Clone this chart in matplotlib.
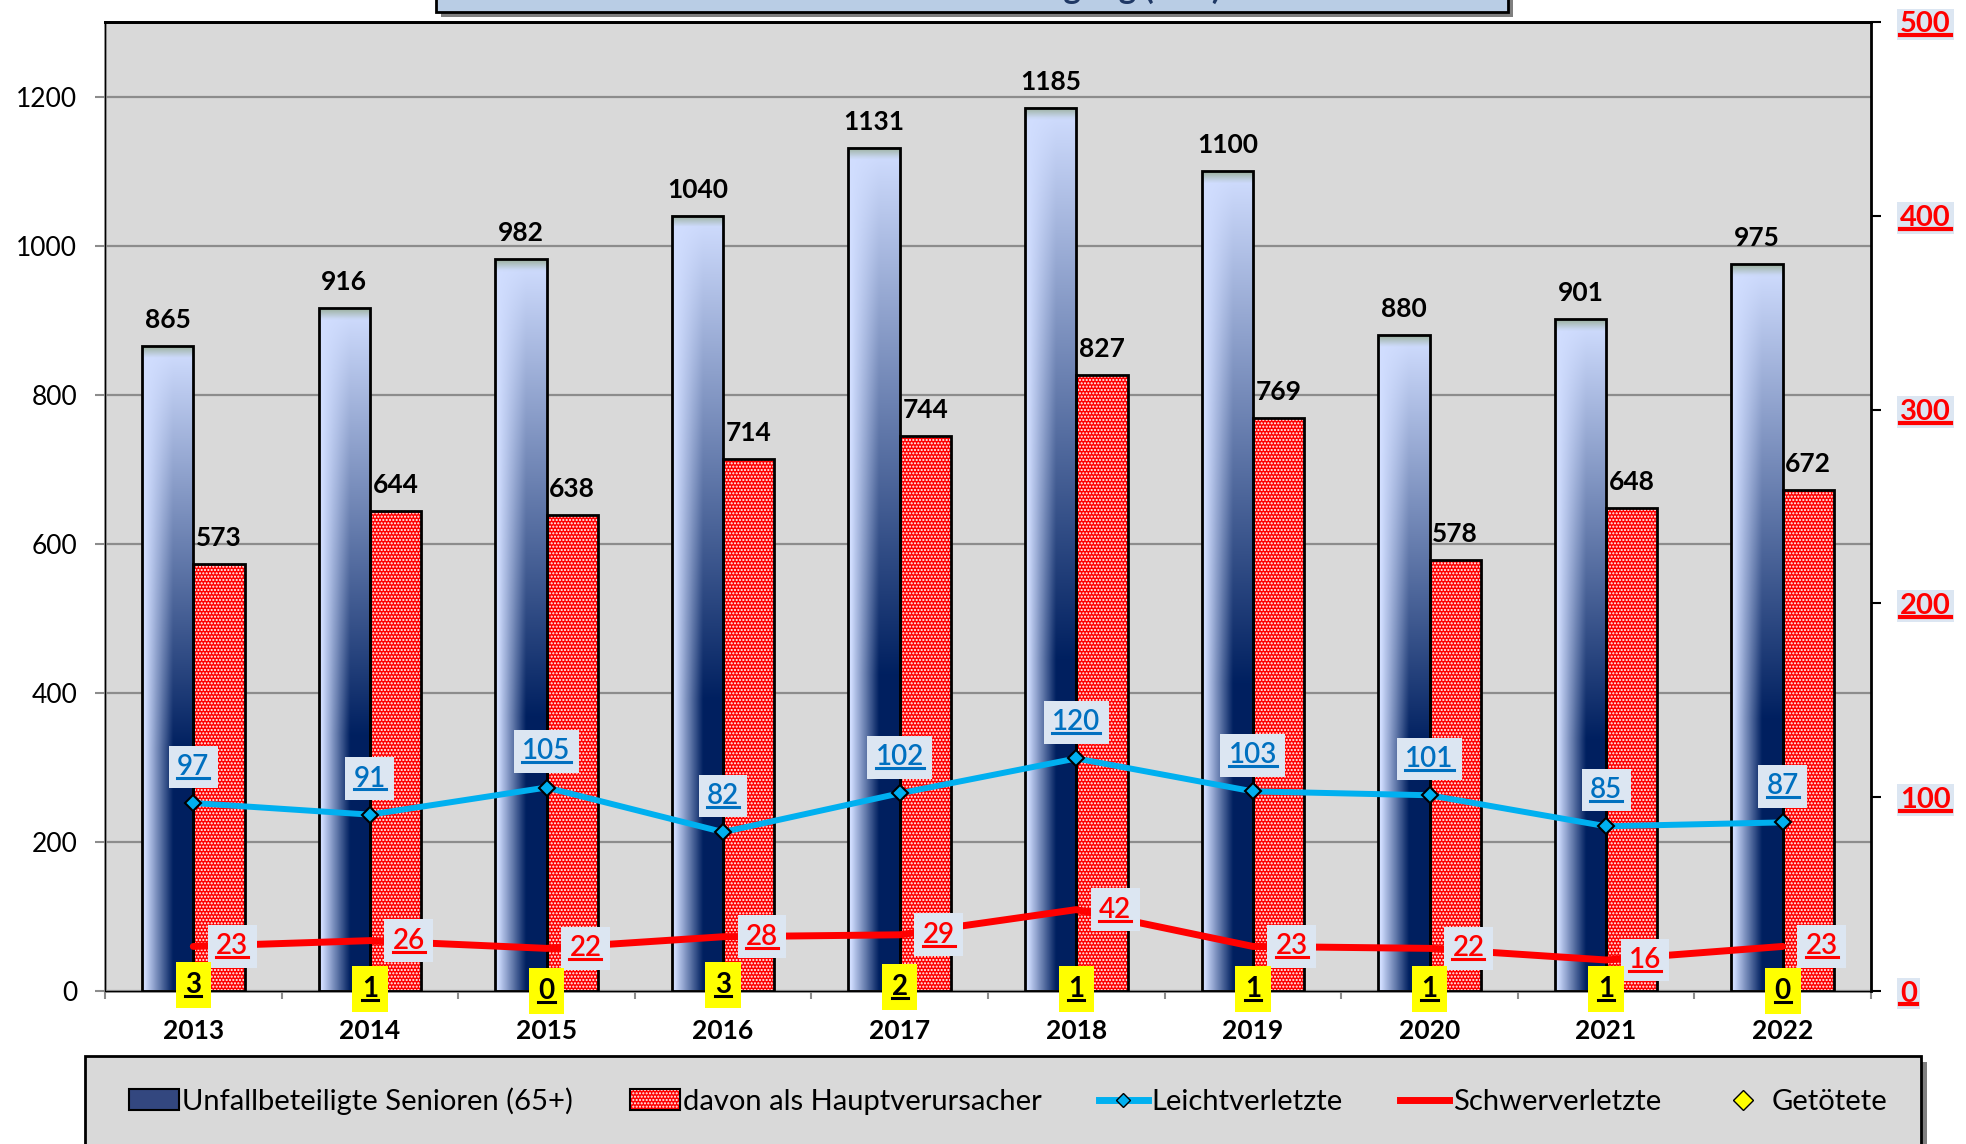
import numpy as np
import matplotlib
matplotlib.use("Agg")
import matplotlib.pyplot as plt
from matplotlib.patches import Rectangle, Patch
from matplotlib.lines import Line2D
from matplotlib.legend_handler import HandlerTuple

# Daten
years = ["2013", "2014", "2015", "2016", "2017", "2018", "2019", "2020", "2021", "2022"]
beteiligte = [865, 916, 982, 1040, 1131, 1185, 1100, 880, 901, 975]
hauptverursacher = [573, 644, 638, 714, 744, 827, 769, 578, 648, 672]
leicht = [97, 91, 105, 82, 102, 120, 103, 101, 85, 87]
schwer = [23, 26, 22, 28, 29, 42, 23, 22, 16, 23]
getoetet = [3, 1, 0, 3, 2, 1, 1, 1, 1, 0]

legend_labels = ["Unfallbeteiligte Senioren (65+)", "davon als Hauptverursacher",
                 "Leichtverletzte", "Schwerverletzte", "Getötete"]
title_text = "Senioren - Unfallbeteiligung (65+)"


def main():
    plt.rcParams['font.family'] = ['Lato', 'DejaVu Sans']
    plt.rcParams['hatch.linewidth'] = 1.0

    W, H = 1966, 1144
    fig = plt.figure(figsize=(W / 100, H / 100), dpi=100)
    ax = fig.add_axes([105 / W, 1 - 991 / H, (1871 - 105) / W, (991 - 22) / H])
    ax.set_facecolor('#d9d9d9')

    x = np.arange(len(years))
    w = 0.29

    # Balken mit Farbverlauf (Unfallbeteiligte)
    light = np.array([0.82, 0.87, 1.0])
    dark = np.array([0.0, 0.125, 0.376])
    cap = np.array([0.62, 0.70, 0.64])
    ny, nx = 300, 60
    yf = np.linspace(0, 1, ny)[:, None]
    xf = np.linspace(0, 1, nx)[None, :]
    for xi, h in zip(x, beteiligte):
        xfac = np.clip((xf - 0.05) / 0.55, 0, 1)
        t = np.clip(1.6 * yf, 0, 1) * xfac
        img = light + (dark - light) * t[..., None]
        yval = h * (1 - yf)
        cw = np.clip(1 - (h - yval) / 14, 0, 1)
        img = img * (1 - cw[..., None]) + cap * cw[..., None]
        ax.imshow(img, extent=(xi - w, xi, 0, h), aspect='auto', zorder=2,
                  interpolation='bilinear')
    ax.bar(x - w / 2, beteiligte, w, fill=False, edgecolor='black', linewidth=2, zorder=3)

    # Hauptverursacher, rot gepunktet
    ax.bar(x + w / 2, hauptverursacher, w, color='red', edgecolor='white',
           hatch='.....', linewidth=0, zorder=2)
    ax.bar(x + w / 2, hauptverursacher, w, fill=False, edgecolor='black', linewidth=2, zorder=3)

    for xi, v in zip(x, beteiligte):
        ax.annotate(str(v), (xi - w / 2, v), xytext=(0, 13), textcoords='offset points',
                    ha='center', va='baseline', fontsize=19, fontweight='bold', zorder=6)
    for xi, v in zip(x, hauptverursacher):
        ax.annotate(str(v), (xi + w / 2, v), xytext=(0, 13), textcoords='offset points',
                    ha='center', va='baseline', fontsize=19, fontweight='bold', zorder=6)

    ax.set_xlim(-0.5, len(years) - 0.5)
    ax.set_ylim(0, 1300)
    ax.set_yticks(range(0, 1201, 200))
    ax.grid(axis='y', color='#8c8c8c', linewidth=1.6)
    ax.set_axisbelow(True)
    ax.tick_params(axis='y', length=7, width=1.5, color='#8c8c8c', pad=13, labelsize=19)
    ax.set_xticks(x, years)
    ax.set_xticks(np.arange(-0.5, len(years), 1), minor=True)
    ax.tick_params(axis='x', which='major', length=0, pad=20, labelsize=19)
    ax.tick_params(axis='x', which='minor', length=6, width=1.5, color='#8c8c8c')
    for lbl in ax.get_xticklabels():
        lbl.set_fontweight('bold')
    for s in ['left', 'bottom']:
        ax.spines[s].set_color('#8c8c8c')
        ax.spines[s].set_linewidth(2)
    ax.spines['top'].set_linewidth(2)

    # Sekundaerachse: Verletzte / Getötete
    ax2 = ax.twinx()
    ax2.set_ylim(0, 500)
    ax2.set_yticks(range(0, 501, 100))
    ax2.set_yticklabels([str(v) for v in range(0, 501, 100)])
    ax2.tick_params(axis='y', length=7, width=1.5, color='black', pad=14,
                    labelsize=21, labelcolor='red')
    ax2.spines['right'].set_linewidth(2)
    ax2.spines['top'].set_linewidth(2)
    underline = []
    for lbl in ax2.get_yticklabels():
        lbl.set_fontweight('bold')
        lbl.set_bbox(dict(boxstyle='square,pad=0.1', fc='#dce6f2', ec='none'))
        underline.append((lbl, 'red', 3))

    ax2.plot(x, leicht, color='#00b0f0', lw=4.3, marker='D', ms=8, mfc='#00b0f0',
             mec='black', mew=1.5, zorder=4)
    ax2.plot(x, schwer, color='red', lw=5, solid_capstyle='round', zorder=4)
    ax2.plot(x, getoetet, ls='none', marker='D', ms=10, mfc='yellow', mec='black', zorder=4)

    for xi, v in zip(x, leicht):
        t = ax2.annotate(str(v), (xi, v), xytext=(0, 26), textcoords='offset points',
                         ha='center', va='center', fontsize=20, fontweight='semibold',
                         color='#0070c0', zorder=6,
                         bbox=dict(boxstyle='square,pad=0.3', fc='#dce6f2', ec='none'))
        underline.append((t, '#0070c0', 2.2))
    for xi, v in zip(x, schwer):
        t = ax2.annotate(str(v), (xi, v), xytext=(28, 0), textcoords='offset points',
                         ha='center', va='center', fontsize=20, fontweight='semibold',
                         color='red', zorder=6,
                         bbox=dict(boxstyle='square,pad=0.3', fc='#dce6f2', ec='none'))
        underline.append((t, 'red', 2.2))
    for xi, v in zip(x, getoetet):
        t = ax2.annotate(str(v), (xi, v), xytext=(0, 0), textcoords='offset points',
                         ha='center', va='center', fontsize=20, fontweight='bold',
                         color='black', zorder=6,
                         bbox=dict(boxstyle='square,pad=0.35', fc='yellow', ec='none'))
        underline.append((t, 'black', 2.2))

    # Titelbox (oben abgeschnitten)
    fig.add_artist(Rectangle((441 / W, 1 - 17 / H), (1508 - 436) / W, 0.05,
                             transform=fig.transFigure, fc='#7f7f7f', ec='none', zorder=0))
    fig.add_artist(Rectangle((436 / W, 1 - 12 / H), (1508 - 436) / W, 0.05,
                             transform=fig.transFigure, fc='#b9cde5', ec='black', lw=2, zorder=0))
    fig.text(972 / W, 1 + 1 / H, title_text, ha='center', va='baseline', fontsize=24,
             fontweight='bold', color='#1f3864')

    # Legendenbox
    fig.add_artist(Rectangle((91 / W, -0.05), (1921 - 85) / W, (1144 - 1062) / H + 0.05,
                             transform=fig.transFigure, fc='#7f7f7f', ec='none', zorder=0))
    fig.add_artist(Rectangle((85 / W, -0.05), (1921 - 85) / W, (1144 - 1056) / H + 0.05,
                             transform=fig.transFigure, fc='#d9d9d9', ec='black', lw=2, zorder=0))
    h1 = Patch(facecolor='#33477f', edgecolor='black', linewidth=1.5)
    h2 = (Patch(facecolor='red', edgecolor='white', hatch='.....', linewidth=0),
          Patch(fill=False, edgecolor='black', linewidth=1.5))
    h3 = Line2D([], [], color='#00b0f0', lw=5, marker='D', ms=7, mfc='#00b0f0', mec='black')
    h4 = Line2D([], [], color='red', lw=5)
    h5 = Line2D([], [], ls='none', marker='D', ms=10, mfc='yellow', mec='black')
    fig.legend([h1, h2, h3, h4, h5], legend_labels,
               handler_map={tuple: HandlerTuple(ndivide=1, pad=0)},
               loc='center', bbox_to_anchor=(1008 / W, (1144 - 1101) / H), ncol=5,
               frameon=False, fontsize=21, handlelength=1.7, handleheight=0.7,
               handletextpad=0.12, columnspacing=1.95)

    # Unterstreichungen
    fig.canvas.draw()
    renderer = fig.canvas.get_renderer()
    inv = fig.transFigure.inverted()
    for t, c, lw in underline:
        bb = t.get_window_extent(renderer)
        y = bb.y0 + 0.08 * bb.height
        (x0, y0), (x1, y1) = inv.transform([(bb.x0, y), (bb.x1, y)])
        fig.add_artist(Line2D([x0, x1], [y0, y1], transform=fig.transFigure,
                              color=c, lw=lw, zorder=10))

    fig.savefig("out.png", dpi=100)
    plt.close(fig)


if __name__ == "__main__":
    main()
